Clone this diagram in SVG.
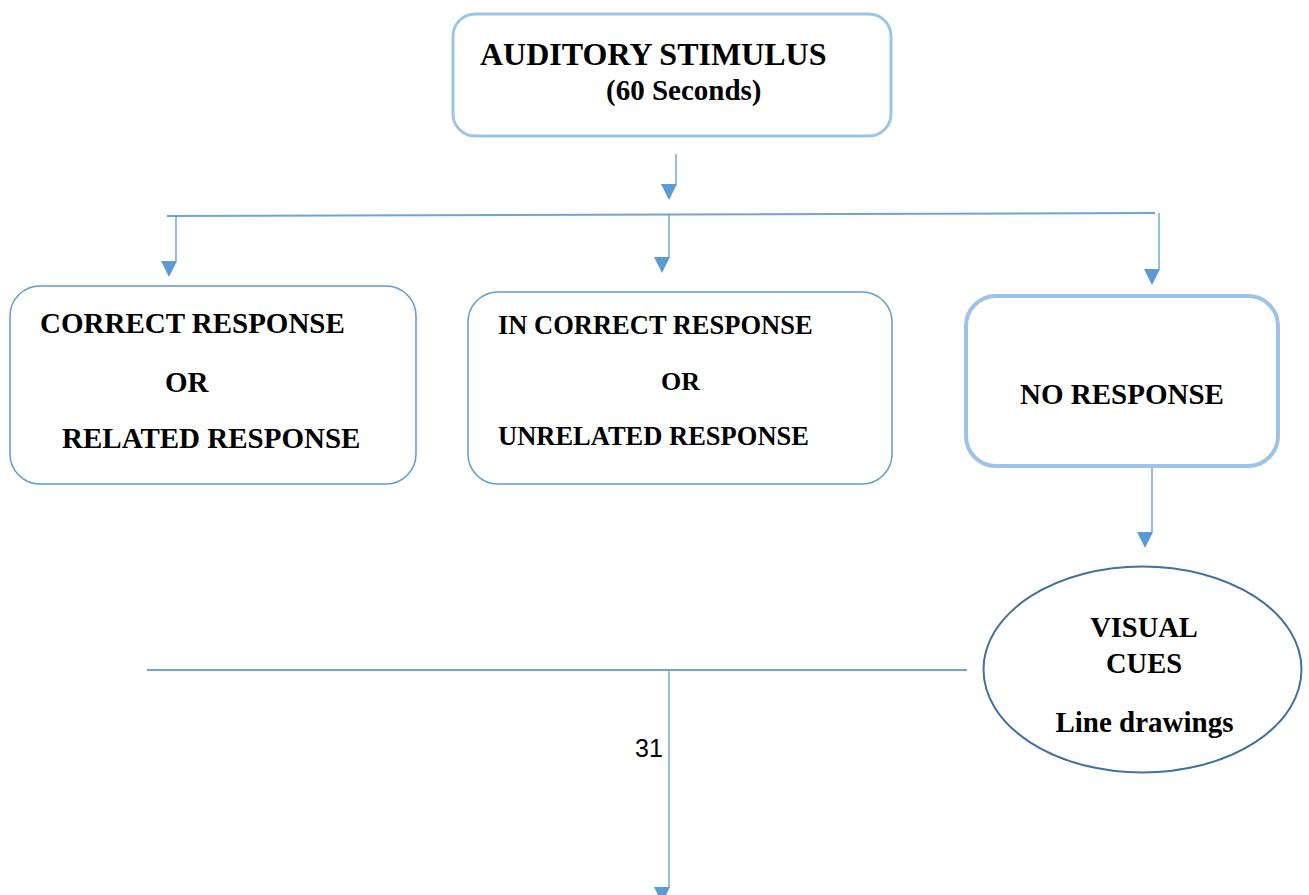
<svg xmlns="http://www.w3.org/2000/svg" width="1309" height="895" viewBox="0 0 1309 895">
<style>
.t{font-family:"Liberation Serif","Times New Roman",serif;font-weight:bold;fill:#000}
.c{stroke:#5b9bd5;stroke-width:1.3;fill:none}
.h{stroke:#6fa3d9;stroke-width:2;fill:none}
.box{fill:#fff;stroke:#5b9bd5;stroke-width:1.5}
.boxl{fill:#fff;stroke:#9dc3e6}
</style>
<defs>
<marker id="ah" markerUnits="userSpaceOnUse" markerWidth="20" markerHeight="20" refX="15" refY="0" orient="0" overflow="visible">
<path d="M0,0 L16,0 L8,16 Z" fill="#5b9bd5"/>
</marker>
</defs>
<rect width="1309" height="895" fill="#fff"/>
<g id="connectors">
<line class="c" x1="676" y1="154" x2="676" y2="184" marker-end="url(#ah)"/>
<line class="h" x1="167" y1="216" x2="1155" y2="213"/>
<line class="c" x1="176" y1="216" x2="176" y2="261" marker-end="url(#ah)"/>
<line class="c" x1="669" y1="215" x2="669" y2="257" marker-end="url(#ah)"/>
<line class="c" x1="1159" y1="213" x2="1159" y2="269" marker-end="url(#ah)"/>
<line class="c" x1="1152" y1="467" x2="1152" y2="532" marker-end="url(#ah)"/>
<line class="h" x1="147" y1="670" x2="967" y2="670"/>
<line class="c" x1="669" y1="670" x2="669" y2="887" marker-end="url(#ah)"/>
</g>
<g id="auditory">
<rect class="boxl" x="453" y="14" width="438" height="122" rx="22" stroke-width="3"/>
<text class="t" x="480" y="65" font-size="32">AUDITORY STIMULUS</text>
<text class="t" x="606" y="100" font-size="29">(60 Seconds)</text>
</g>
<g id="correct">
<rect class="box" x="10" y="286" width="406" height="198" rx="30"/>
<text class="t" x="40" y="333" font-size="29">CORRECT RESPONSE</text>
<text class="t" x="165" y="392" font-size="29">OR</text>
<text class="t" x="62" y="448" font-size="29">RELATED RESPONSE</text>
</g>
<g id="incorrect">
<rect class="box" x="468" y="292" width="424" height="192" rx="30"/>
<text class="t" x="498" y="334" font-size="26.5">IN CORRECT RESPONSE</text>
<text class="t" x="661" y="390" font-size="26">OR</text>
<text class="t" x="498" y="445" font-size="26.5">UNRELATED RESPONSE</text>
</g>
<g id="noresponse">
<rect class="boxl" x="966" y="296" width="312" height="170" rx="30" stroke-width="4"/>
<text class="t" x="1020" y="404" font-size="29">NO RESPONSE</text>
</g>
<g id="visual">
<ellipse cx="1142.5" cy="669.5" rx="159" ry="103" fill="#fff" stroke="#41719c" stroke-width="2"/>
<text class="t" x="1144" y="637" font-size="28.5" text-anchor="middle">VISUAL</text>
<text class="t" x="1144" y="673" font-size="28.5" text-anchor="middle">CUES</text>
<text class="t" x="1144.5" y="732" font-size="29" text-anchor="middle">Line drawings</text>
</g>
<g id="page">
<text x="635" y="757" font-family="Liberation Sans, Arial, sans-serif" font-size="25" fill="#000">31</text>
</g>
</svg>
